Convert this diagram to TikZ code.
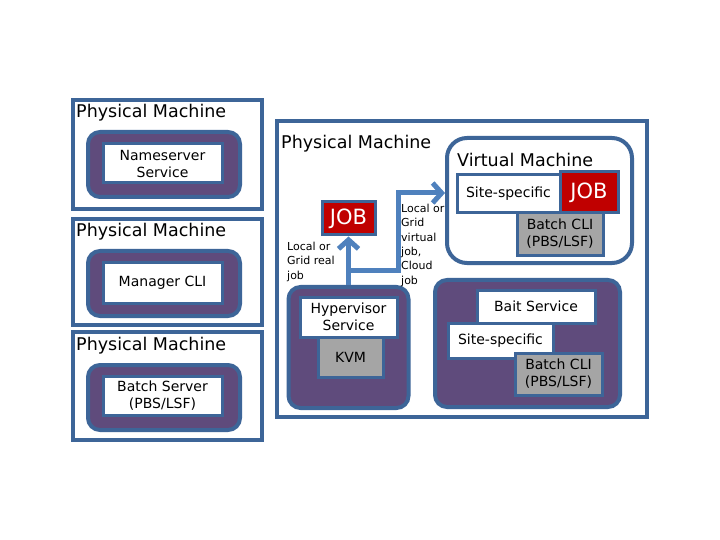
\documentclass[tikz,border=0pt]{standalone}
\usepackage{fontspec}
\setmainfont{DejaVu Sans}
\usetikzlibrary{positioning, arrows.meta, calc}
\definecolor{edgeblue}{HTML}{3D6598}
\definecolor{hostpurple}{HTML}{5F4B7C}
\definecolor{jobred}{HTML}{C00000}
\definecolor{cligray}{HTML}{A5A5A5}
\definecolor{flowblue}{HTML}{4F81BD}

\tikzset{
  machine/.style={draw=edgeblue, line width=4bp, fill=white, inner sep=0pt},
  hostbox/.style={draw=edgeblue, line width=4bp, fill=hostpurple, rounded corners=12bp, inner sep=0pt},
  vmbox/.style={draw=edgeblue, line width=4bp, fill=white, rounded corners=20bp, inner sep=0pt},
  svcbox/.style={draw=edgeblue, line width=3bp, fill=white, align=center, inner sep=0pt,
    font=\fontsize{14bp}{17bp}\selectfont},
  clibox/.style={svcbox, fill=cligray},
  jobbox/.style={draw=edgeblue, line width=3bp, fill=jobred, text=white, inner sep=0pt,
    font=\fontsize{21bp}{24bp}\selectfont},
  title/.style={anchor=base west, inner sep=0pt, font=\fontsize{17.5bp}{21bp}\selectfont},
  note/.style={anchor=north west, align=left, inner sep=0pt, font=\fontsize{11bp}{14.3bp}\selectfont},
  flow/.style={draw=flowblue, line width=5bp, -{Straight Barb[length=9bp, width=20bp]}}
}

\begin{document}
\begin{tikzpicture}[x=1bp, y=-1bp]
    \fill[white] (0,0) rectangle (720,540);
    \useasboundingbox (0,0) rectangle (720,540);
    % Nameserver machine
    \node[machine, minimum width=189bp, minimum height=109bp] (pmA) at (167.5,154.5) {};
    \node[title] (pmAtitle) at ($(pmA.north west)+(5,20)$) {Physical Machine};
    \node[hostbox, minimum width=152bp, minimum height=65bp] (nsHost) at (164,164.5) {};
    \node[svcbox, minimum width=119bp, minimum height=39bp] (ns) at (162.5,163.5) {Nameserver\\Service};
    % Manager machine
    \node[machine, minimum width=189bp, minimum height=106bp] (pmB) at (167.5,272) {};
    \node[title] (pmBtitle) at ($(pmB.north west)+(5,20)$) {Physical Machine};
    \node[hostbox, minimum width=152bp, minimum height=65bp] (mgrHost) at (164,283.5) {};
    \node[svcbox, minimum width=119bp, minimum height=40bp] (mgr) at (162.5,283) {Manager CLI};
    % Batch server machine
    \node[machine, minimum width=189bp, minimum height=108bp] (pmC) at (167.5,386) {};
    \node[title] (pmCtitle) at ($(pmC.north west)+(5,20)$) {Physical Machine};
    \node[hostbox, minimum width=152bp, minimum height=65bp] (bsHost) at (164,397.5) {};
    \node[svcbox, minimum width=119bp, minimum height=39bp] (bs) at (162.5,395.5) {Batch Server\\(PBS/LSF)};
    % Main machine
    \node[machine, minimum width=370bp, minimum height=296bp] (pmMain) at (462,269) {};
    \node[title] (pmMainTitle) at ($(pmMain.north west)+(6,30)$) {Physical Machine};
    % Virtual machine
    \node[vmbox, minimum width=185bp, minimum height=125bp] (vm) at (539.5,200.5) {};
    \node[title] (vmTitle) at ($(vm.north west)+(12,31)$) {Virtual Machine};
    \node[svcbox, minimum width=103bp, minimum height=38bp] (vmSite) at (508.5,194) {Site-specific};
    \node[jobbox, minimum width=58bp, minimum height=41bp] (vmJob) at (589,192.5) {JOB};
    \node[clibox, minimum width=86bp, minimum height=42bp] (vmCli) at (560,234) {Batch CLI\\(PBS/LSF)};
    % Hypervisor
    \node[jobbox, minimum width=53bp, minimum height=33bp] (job) at (348.5,218.5) {JOB};
    \node[hostbox, minimum width=120bp, minimum height=121bp] (hypHost) at (348.5,347.5) {};
    \node[svcbox, minimum width=97bp, minimum height=40bp] (hypSvc) at (348.5,317) {Hypervisor\\Service};
    \node[clibox, minimum width=65bp, minimum height=40bp] (kvm) at (350.5,357) {KVM};
    % Bait
    \node[hostbox, minimum width=185bp, minimum height=127bp] (baitHost) at (527.5,343.5) {};
    \node[svcbox, minimum width=118bp, minimum height=33bp] (baitSvc) at (536,306.5) {Bait Service};
    \node[svcbox, minimum width=105bp, minimum height=35bp] (baitSite) at (500.5,340.5) {Site-specific};
    \node[clibox, minimum width=87bp, minimum height=42bp] (baitCli) at (558.5,374) {Batch CLI\\(PBS/LSF)};
    % Job flows
    \coordinate (fork) at (348.5,270);
    \coordinate (bend) at (398,193);
    \draw[flow] (hypHost.north) -- (job.south);
    \draw[flow] (fork) -| (bend) -- (bend -| vm.west);
    \node[note] (realLbl) at (287,242) {Local or\\Grid real\\job};
    \node[note] (virtLbl) at (401,204) {Local or\\Grid\\virtual\\job,\\Cloud\\job};
\end{tikzpicture}
\end{document}
